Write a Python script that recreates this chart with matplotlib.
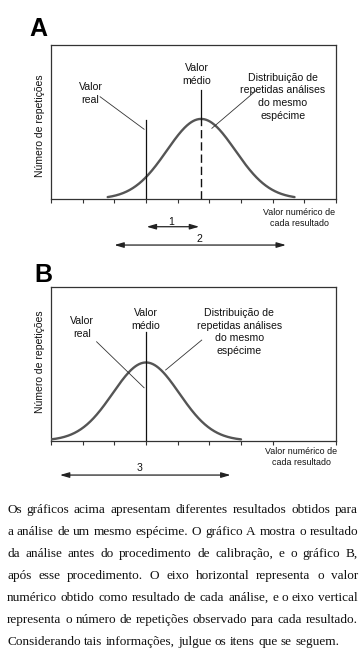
import numpy as np
import matplotlib
matplotlib.use("Agg")
import matplotlib.pyplot as plt

W, H = 362, 659

# ---- data ----
panels = ["A", "B"]
mean_values = [4.74, 3.0]      # "Valor médio"
real_values = [3.0, 3.0]       # "Valor real"
sigmas = [1.08, 1.05]
peaks = [0.52, 0.51]
curve_halfspan = [2.95, 3.0]
tick_sets = [[0, 1, 2, 3, 4, 5, 6, 7, 8, 9], [0, 1, 2, 3, 4, 5, 6, 7, 9]]
arrow_labels = [["1", "2"], ["3"]]
arrow_starts = [[3.02, 2.0], [0.28]]
arrow_ends = [[4.68, 7.42], [5.67]]
arrow_label_x = [[3.78, 4.68], [2.79]]

ylabel = "Número de repetições"
xlabel = "Valor numérico de\ncada resultado"
lbl_real = "Valor\nreal"
lbl_mean = "Valor\nmédio"
lbl_dist = "Distribuição de\nrepetidas análises\ndo mesmo\nespécime"

paragraph = [
    "Os gráficos acima apresentam diferentes resultados obtidos para",
    "a análise de um mesmo espécime. O gráfico A mostra o resultado",
    "da análise antes do procedimento de calibração, e o gráfico B,",
    "após esse procedimento. O eixo horizontal representa o valor",
    "numérico obtido como resultado de cada análise, e o eixo vertical",
    "representa o número de repetições observado para cada resultado.",
    "Considerando tais informações, julgue os itens que se seguem.",
]

plt.rcParams["font.family"] = ["Liberation Sans", "DejaVu Sans"]

fig = plt.figure(figsize=(W / 100, H / 100), dpi=100)
fig.patch.set_facecolor("white")

def fx(px):
    return px / W

def fy(py):
    return 1 - py / H

# axes boxes in pixels: left, top, right, bottom
boxes = [(51, 45, 336, 199), (51, 287.3, 336, 440.7)]

# layout of annotation positions (x data, y axes-fraction)
layout = [
    dict(real_txt=(1.25, 0.685), mean_txt=(4.60, 0.808), dist_txt=(7.32, 0.664),
         real_lead=((1.55, 0.664), (2.94, 0.453)),
         dist_lead=((6.50, 0.708), (5.08, 0.459)),
         mean_top=0.708, real_top=0.513,
         arrow_y=[-0.18, -0.299], num_y=[-0.147, -0.262],
         xlabel_xy=(299, 217.7), letter_xy=(38.7, 29.5), ylab_y=126),
    dict(real_txt=(0.97, 0.739), mean_txt=(2.99, 0.791), dist_txt=(5.95, 0.709),
         real_lead=((1.44, 0.645), (2.94, 0.345)),
         dist_lead=((4.76, 0.656), (3.62, 0.461)),
         mean_top=0.71, real_top=0.71,
         arrow_y=[-0.224], num_y=[-0.180],
         xlabel_xy=(301, 456.7), letter_xy=(43.5, 274.7), ylab_y=362),
]

edge = "#333333"
curve_col = "#555555"
txt_col = "#111111"

for i, p in enumerate(panels):
    l, t, r, b = boxes[i]
    ax = fig.add_axes([fx(l), fy(b), fx(r - l), (b - t) / H])
    ax.set_xlim(0, 9)
    ax.set_ylim(0, 1)
    for s in ax.spines.values():
        s.set_color(edge)
        s.set_linewidth(0.9)
    ax.set_xticks(tick_sets[i])
    ax.set_xticklabels([])
    ax.set_yticks([])
    ax.tick_params(axis="x", direction="out", length=3.2, width=0.8, color=edge)

    m, sd, pk, hs = mean_values[i], sigmas[i], peaks[i], curve_halfspan[i]
    xs = np.linspace(m - hs, m + hs, 300)
    ys = pk * np.exp(-0.5 * ((xs - m) / sd) ** 2)
    ax.plot(xs, ys, color=curve_col, lw=1.7, solid_capstyle="round", zorder=3)

    L = layout[i]
    xtr = ax.get_xaxis_transform()
    rv = real_values[i]
    if i == 0:
        ax.plot([rv, rv], [0, L["real_top"]], color=txt_col, lw=0.9, zorder=4)
        ax.plot([m, m], [pk, L["mean_top"]], color=txt_col, lw=0.9, zorder=4)
        ax.plot([m, m], [0, pk], color=txt_col, lw=1.0, dashes=(6, 2.8), zorder=4)
    else:
        ax.plot([m, m], [0, L["mean_top"]], color=txt_col, lw=0.9, zorder=4)

    # leader lines
    for (a, bb) in [L["real_lead"], L["dist_lead"]]:
        ax.plot([a[0], bb[0]], [a[1], bb[1]], color="#333333", lw=0.6, zorder=4)

    fs = 7.6
    ax.text(*L["real_txt"], lbl_real, ha="center", va="center", fontsize=fs,
            linespacing=1.35, color=txt_col)
    ax.text(*L["mean_txt"], lbl_mean, ha="center", va="center", fontsize=fs,
            linespacing=1.35, color=txt_col)
    ax.text(*L["dist_txt"], lbl_dist, ha="center", va="center", fontsize=fs,
            linespacing=1.33, color=txt_col)

    # range arrows
    for lab, x0, x1, lx, ay, ny in zip(arrow_labels[i], arrow_starts[i], arrow_ends[i],
                                       arrow_label_x[i], L["arrow_y"], L["num_y"]):
        ax.annotate("", xy=(x1, ay), xytext=(x0, ay), xycoords=xtr, textcoords=xtr,
                    annotation_clip=False,
                    arrowprops=dict(arrowstyle="<|-|>,head_length=0.55,head_width=0.16",
                                    color="#222222", lw=0.9, shrinkA=0, shrinkB=0))
        ax.text(lx, ny, lab, transform=xtr, ha="center", va="center",
                fontsize=7.6, color=txt_col, clip_on=False)

    # axis labels
    fig.text(fx(L["xlabel_xy"][0]), fy(L["xlabel_xy"][1]), xlabel, ha="center",
             va="center", fontsize=6.4, linespacing=1.3, color=txt_col)
    fig.text(fx(40), fy(L["ylab_y"]), ylabel, rotation=90, ha="center", va="center",
             fontsize=7.5, color=txt_col)
    fig.text(fx(L["letter_xy"][0]), fy(L["letter_xy"][1]), p, ha="center",
             va="center", fontsize=18, fontweight="bold", color="black")

# ---- justified paragraph ----
serif = ["Liberation Serif", "DejaVu Serif"]
pfs = 9.5
x_left, x_right = 7.0, 358.0
base0, lstep = 513.0, 22.0
fig.canvas.draw()
renderer = fig.canvas.get_renderer()

def word_width(w):
    t = fig.text(0, 0, w, fontsize=pfs, family=serif)
    bb = t.get_window_extent(renderer=renderer)
    t.remove()
    return bb.width

space_w = word_width("a b") - word_width("ab")
for k, line in enumerate(paragraph):
    words = line.split(" ")
    widths = [word_width(w) for w in words]
    yb = fy(base0 + k * lstep)
    if k == len(paragraph) - 1:
        gap = space_w
    else:
        gap = max((x_right - x_left - sum(widths)) / (len(words) - 1), 0.6)
    x = x_left
    for w, wd in zip(words, widths):
        fig.text(fx(x), yb, w, fontsize=pfs, family=serif, ha="left",
                 va="baseline", color=txt_col)
        x += wd + gap

fig.savefig("out.png", dpi=100, facecolor="white")
